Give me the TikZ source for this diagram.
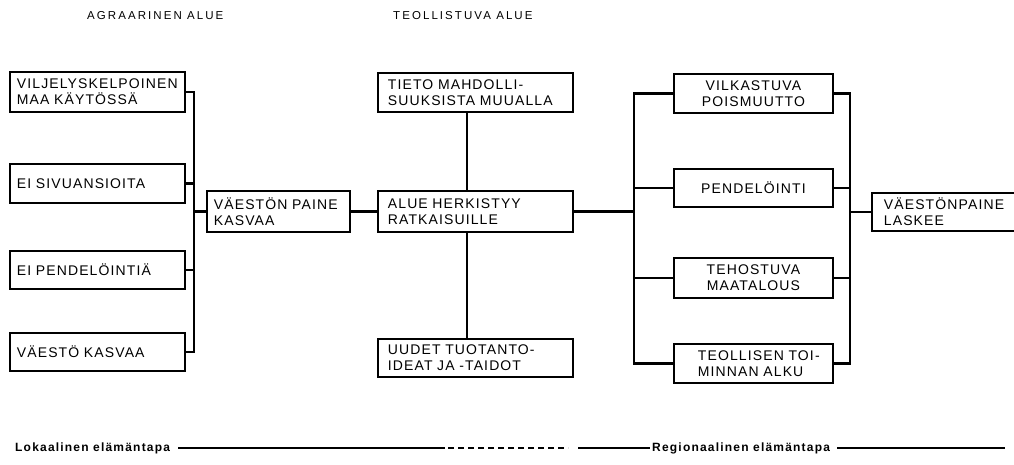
\documentclass[tikz,border=0pt]{standalone}
\usepackage{fontspec}
\setmainfont{Liberation Sans}
\newfontfamily\boxfont[LetterSpace=8]{Liberation Sans}
\newfontfamily\titlefont[LetterSpace=18]{Liberation Sans}
\newfontfamily\footfont[LetterSpace=10]{Liberation Sans}
\begin{document}
\begin{tikzpicture}[x=1pt,y=-1pt,
  conn/.style={draw, line width=2.2pt},
  box/.style={draw, line width=1.8pt, anchor=north west, inner ysep=0pt,
    font=\boxfont\fontsize{14}{16}\selectfont},
  lbox/.style={box, minimum width=175pt, text width=161pt, inner xsep=7pt, align=left},
  rbox/.style={box, minimum width=159pt, text width=150pt, inner xsep=4.5pt, align=center},
  title/.style={font=\titlefont\fontsize{11.5}{13}\selectfont, inner sep=0pt, anchor=west},
  foot/.style={font=\footfont\bfseries\fontsize{12}{14}\selectfont, inner sep=0pt, anchor=west},
  fline/.style={draw, line width=1.6pt}]
\useasboundingbox (0,0) rectangle (1014,464);

% titles
\node[title] (tA) at (87,16) {AGRAARINEN~ALUE};
\node[title] (tT) at (393,16) {TEOLLISTUVA~ALUE};

% left column
\node[lbox, minimum height=40pt] (l1) at (9,71) {VILJELYSKELPOINEN\\MAA~KÄYTÖSSÄ};
\node[lbox, minimum height=39pt] (l2) at (9,163) {EI~SIVUANSIOITA};
\node[lbox, minimum height=38pt] (l3) at (9,250) {EI~PENDELÖINTIÄ};
\node[lbox, minimum height=38pt] (l4) at (9,332) {VÄESTÖ~KASVAA};

% middle
\node[box, minimum width=143pt, minimum height=41pt, text width=129pt, inner xsep=7pt, align=left] (p) at (206,190) {VÄESTÖN~PAINE\\KASVAA};
\node[box, minimum width=195pt, minimum height=39pt, text width=175pt, inner xsep=10pt, align=left] (t) at (377,72) {\mbox{TIETO MAHDOLLI-}\\SUUKSISTA~MUUALLA};
\node[box, minimum width=195pt, minimum height=41pt, text width=175pt, inner xsep=10pt, align=left] (a) at (377,190) {ALUE~HERKISTYY\\RATKAISUILLE};
\node[box, minimum width=195pt, minimum height=38pt, text width=175pt, inner xsep=10pt, align=left] (u) at (377,338) {\mbox{UUDET TUOTANTO-}\\\mbox{IDEAT JA -TAIDOT}};

% right column
\node[rbox, minimum height=39pt] (r1) at (673,73) {VILKASTUVA\\POISMUUTTO};
\node[rbox, minimum height=38pt] (r2) at (673,168) {PENDELÖINTI};
\node[rbox, minimum height=40pt] (r3) at (673,257) {TEHOSTUVA\\MAATALOUS};
\node[box, minimum width=159pt, minimum height=39pt, text width=111pt, inner xsep=24pt, align=left] (r4) at (673,343) {\mbox{TEOLLISEN TOI-}\\\mbox{MINNAN ALKU}};

\node[box, minimum width=141pt, minimum height=38pt, text width=122pt, inner xsep=12pt, align=left] (f) at (871,192) {VÄESTÖNPAINE\\LASKEE};

% bus coordinates
\coordinate (bL) at (194,0);
\coordinate (vx) at (467,0);
\coordinate (bR) at (634,0);
\coordinate (bF) at (850,0);

% left connectors
\path[conn] (l1.east) -- (l1.east -| bL) -- (l4.east -| bL) -- (l4.east);
\path[conn] (l2.east) -- (l2.east -| bL);
\path[conn] (l3.east) -- (l3.east -| bL);
\path[conn] (p.west -| bL) -- (p.west);

% middle connectors
\path[conn] (p.east) -- (p.east -| a.west);
\path[conn] (t.south -| vx) -- (a.north -| vx);
\path[conn] (a.south -| vx) -- (u.north -| vx);
\path[conn] (a.east) -- (a.east -| bR);

% right connectors
\path[conn] (r1.west) -- (r1.west -| bR) -- (r4.west -| bR) -- (r4.west);
\path[conn] (r2.west) -- (r2.west -| bR);
\path[conn] (r3.west) -- (r3.west -| bR);
\path[conn] (r1.east) -- (r1.east -| bF) -- (r4.east -| bF) -- (r4.east);
\path[conn] (r2.east) -- (r2.east -| bF);
\path[conn] (r3.east) -- (r3.east -| bF);
\path[conn] (f.west -| bF) -- (f.west);

% bottom line
\node[foot] (lok) at (15,448) {Lokaalinen~elämäntapa};
\node[foot] (reg) at (652,448) {Regionaalinen~elämäntapa};
\coordinate (d1) at (445,448);
\coordinate (d2) at (448,448);
\coordinate (d3) at (568,448);
\coordinate (d4) at (578,448);
\coordinate (d5) at (1005,448);
\path[fline] (lok.east) ++(8,0) -- (d1);
\path[fline, dash pattern=on 6pt off 4pt] (d2) -- (d3);
\path[fline] (d4) -- ([xshift=-2pt]reg.west);
\path[fline] ([xshift=7pt]reg.east) -- (d5);
\end{tikzpicture}
\end{document}
